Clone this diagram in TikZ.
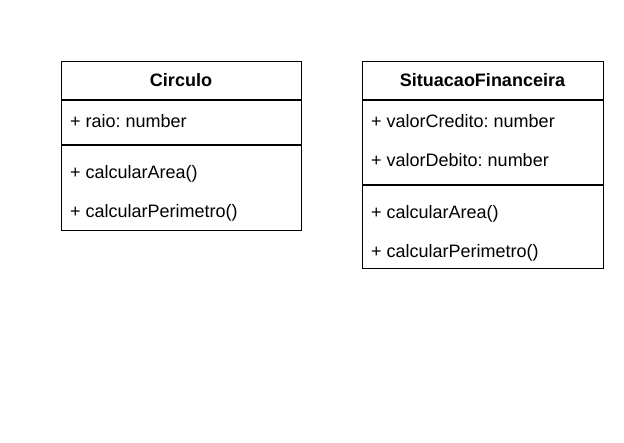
\documentclass[tikz,border=0pt]{standalone}
\usepackage{fontspec}
\setmainfont{Liberation Sans}
\frenchspacing
\begin{document}
\begin{tikzpicture}[x=1pt,y=-1pt,
  classbox/.style={draw, line width=1.2pt, inner sep=0pt, anchor=north west},
  classtitle/.style={font=\bfseries\fontsize{18}{21}\selectfont, anchor=base, inner sep=0pt},
  member/.style={font=\fontsize{18}{21}\selectfont, anchor=base west, inner sep=0pt},
  sep/.style={line width=1.2pt}]
\useasboundingbox (0,0) rectangle (624,442);
% Circulo
\node[classbox, minimum width=240pt, minimum height=169pt] (c) at (61,61) {};
\coordinate (c1l) at (61,100); \coordinate (c1r) at (301,100);
\coordinate (c2l) at (61,145); \coordinate (c2r) at (301,145);
\draw[sep] (c1l) -- (c1r);
\draw[sep] (c2l) -- (c2r);
\node[classtitle] (ct) at (181,86) {Circulo};
\node[member] (ca1) at (70,127) {+ raio: number};
\node[member] (cm1) at (70,178) {+ calcularArea()};
\node[member] (cm2) at (70,217) {+ calcularPerimetro()};
% SituacaoFinanceira
\node[classbox, minimum width=241pt, minimum height=207pt] (s) at (362,61) {};
\coordinate (s1l) at (362,100); \coordinate (s1r) at (603,100);
\coordinate (s2l) at (362,185); \coordinate (s2r) at (603,185);
\draw[sep] (s1l) -- (s1r);
\draw[sep] (s2l) -- (s2r);
\node[classtitle] (st) at (482.5,86) {SituacaoFinanceira};
\node[member] (sa1) at (371,127) {+ valorCredito: number};
\node[member] (sa2) at (371,166) {+ valorDebito: number};
\node[member] (sm1) at (371,218) {+ calcularArea()};
\node[member] (sm2) at (371,257) {+ calcularPerimetro()};
\end{tikzpicture}
\end{document}
